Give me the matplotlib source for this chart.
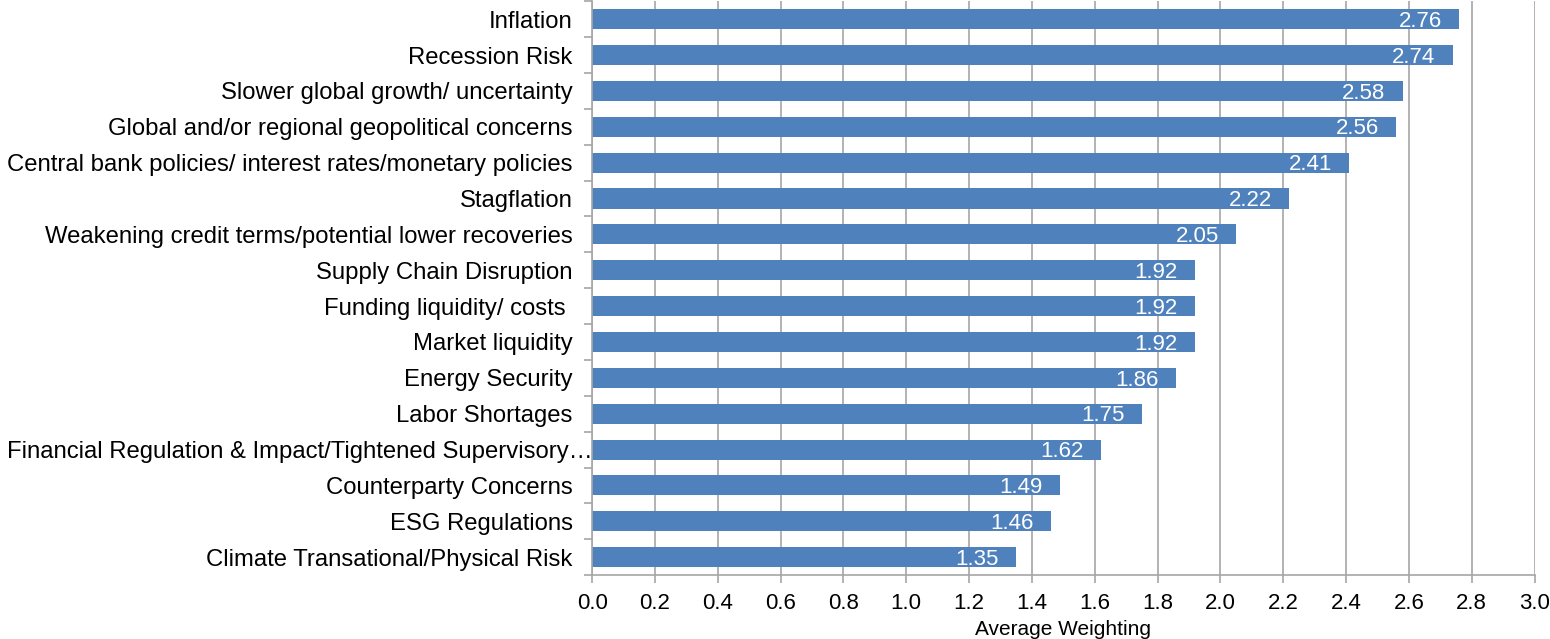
import matplotlib
matplotlib.use("Agg")
import matplotlib.pyplot as plt
from matplotlib.transforms import ScaledTranslation
import numpy as np

CATEGORIES = [
    "Inflation",
    "Recession Risk",
    "Slower global growth/ uncertainty",
    "Global and/or regional geopolitical concerns",
    "Central bank policies/ interest rates/monetary policies",
    "Stagflation",
    "Weakening credit terms/potential lower recoveries",
    "Supply Chain Disruption",
    "Funding liquidity/ costs ",
    "Market liquidity",
    "Energy Security",
    "Labor Shortages",
    "Financial Regulation & Impact/Tightened Supervisory\u2026",
    "Counterparty Concerns",
    "ESG Regulations",
    "Climate Transational/Physical Risk",
]
WEIGHTS = [2.76, 2.74, 2.58, 2.56, 2.41, 2.22, 2.05, 1.92, 1.92, 1.92,
           1.86, 1.75, 1.62, 1.49, 1.46, 1.35]
X_TICKS = [0.0, 0.2, 0.4, 0.6, 0.8, 1.0, 1.2, 1.4, 1.6, 1.8, 2.0,
           2.2, 2.4, 2.6, 2.8, 3.0]

BAR_COLOR = "#4F81BD"
GRID_COLOR = "#A6A6A6"

plt.rcParams.update({
    "font.family": ["Liberation Sans", "DejaVu Sans"],
    "font.size": 16,
})

fig = plt.figure(figsize=(15.5, 6.39), dpi=100)
ax = fig.add_axes([0.382, 0.100, 0.608, 0.898])

y = np.arange(len(CATEGORIES))
ax.barh(y, WEIGHTS, height=0.56, color=BAR_COLOR, zorder=2)

for yi, w in zip(y, WEIGHTS):
    ax.text(w - 0.055, yi + 0.06, f"{w:.2f}", color="white", ha="right",
            va="center", fontsize=16, zorder=3)

ax.set_ylim(len(CATEGORIES) - 0.5, -0.5)
ax.set_yticks(y)
ax.set_yticklabels(CATEGORIES, fontsize=17.2)
# tick marks sit between categories, labels centred on bars
ax.set_yticks(np.arange(len(CATEGORIES) + 1) - 0.5, minor=True)
ax.tick_params(axis="y", which="major", length=0, pad=14)
ax.tick_params(axis="y", which="minor", length=6, color=GRID_COLOR, width=1.2)

# the truncated label runs up to the axis line
long_label = ax.get_yticklabels()[12]
long_label.set_transform(long_label.get_transform()
                         + ScaledTranslation(0.2, 0, fig.dpi_scale_trans))

ax.set_xlim(0, 3.0)
ax.set_xticks(X_TICKS)
ax.set_xticklabels([f"{t:.1f}" for t in X_TICKS], fontsize=16)
ax.tick_params(axis="x", length=6, color=GRID_COLOR, width=1.2, pad=7)
ax.set_xlabel("Average Weighting", fontsize=15, labelpad=4)

ax.grid(axis="x", color=GRID_COLOR, linewidth=1.2, zorder=0)
ax.set_axisbelow(True)
for side in ("top", "right"):
    ax.spines[side].set_visible(False)
for side in ("left", "bottom"):
    ax.spines[side].set_color(GRID_COLOR)
    ax.spines[side].set_linewidth(1.2)

fig.savefig("out.png", dpi=100)
